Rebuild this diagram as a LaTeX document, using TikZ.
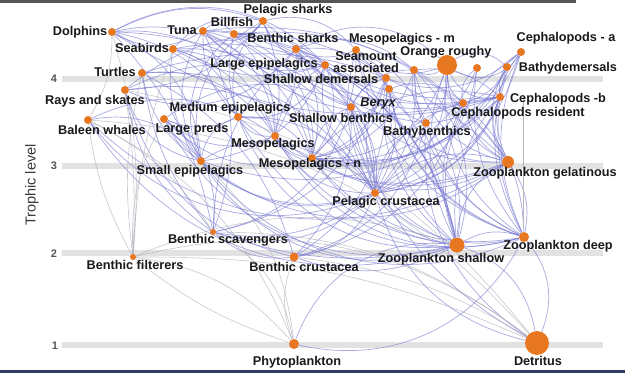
\documentclass[tikz,border=0pt]{standalone}
\usepackage{fontspec}
\setmainfont{Liberation Sans}
\pgfdeclarelayer{bars}
\pgfdeclarelayer{edges}
\pgfsetlayers{bars,edges,main}
\definecolor{dotc}{RGB}{232,119,34}
\definecolor{edgec}{RGB}{118,118,210}
\definecolor{greyedge}{RGB}{170,170,182}
\definecolor{barc}{RGB}{226,226,226}
\definecolor{txt}{RGB}{25,25,25}
\definecolor{framec}{RGB}{85,85,85}
\definecolor{bottomc}{RGB}{45,60,95}
\begin{document}
\begin{tikzpicture}[x=1pt,y=-1pt,
  dot/.style={circle,fill=dotc,draw=none,inner sep=0pt},
  lbl/.style={font=\bfseries\fontsize{12.7}{13}\selectfont,text=txt,inner sep=0pt,text height=9pt,text depth=0pt},
  lvl/.style={font=\bfseries\fontsize{11}{12}\selectfont,text=framec,inner sep=0pt},
  bar/.style={draw=barc,line width=6.5pt},
  edge/.style={draw=edgec,opacity=0.62,line width=0.7pt},
  gedge/.style={draw=greyedge,opacity=0.65,line width=0.6pt}]
\useasboundingbox (0,0) rectangle (625,373);
% trophic level bars
\begin{pgfonlayer}{bars}
\fill[white] (0,0) rectangle (625,373);
\coordinate (b4l) at (62,79);  \coordinate (b4r) at (603,79);
\coordinate (b3l) at (62,166); \coordinate (b3r) at (603,166);
\coordinate (b2l) at (62,253); \coordinate (b2r) at (603,253);
\coordinate (b1l) at (62,345); \coordinate (b1r) at (603,345);
\draw[bar] (b4l) -- (b4r);
\draw[bar] (b3l) -- (b3r);
\draw[bar] (b2l) -- (b2r);
\draw[bar] (b1l) -- (b1r);
\end{pgfonlayer}
% frame bits
\fill[framec] (0,0) rectangle (576,3);
\fill[bottomc] (0,370) rectangle (625,373);
\draw[gray!55,line width=0.6pt] (523,95) -- (523,225);
\node[lvl] (l4) at (54,79) {4};
\node[lvl] (l3) at (54,166) {3};
\node[lvl] (l2) at (54,254) {2};
\node[lvl] (l1) at (55,346) {1};
\node[rotate=90,font=\fontsize{14.5}{15}\selectfont,text=txt!85,inner sep=0pt] (tl) at (32,185) {Trophic level};
% dots
\foreach \n/\x/\y/\r in {
 dol/112/32/4, tun/203/31/4, bil/234/34/4, psh/263/21/4, sea/173/49/4,
 tur/142/73/4, ray/125/90/4, bsh/296/49/4, mem/356/50/4, lep/325/65/4,
 sam/414/70/4, oro/447/65/10, unk/477/68/4, bde/507/67/4, cpa/521/52/4,
 sde/386/78/4, ber/389/89/4, sbe/351/107/4, cpb/500/97/4, cpr/463/103/4,
 bbe/426/123/4, mep/238/117/4, lpr/164/119/4, bwh/88/120/4, mes/275/136/4,
 sep/201/161/4, men/312/158/4, zge/508/162/6, pcr/375/193/4, bsc/213/232/3,
 zde/524/237/5, zsh/457/245/7.5, bfi/133/257/3, bcr/294/257/4.5,
 phy/294/344/5, det/537/343/12}
 \node[dot,minimum size=\r*2pt] (\n) at (\x,\y) {};
% edges
\begin{pgfonlayer}{edges}
\foreach \a/\b/\c in {
 dol/sep/20, dol/mep/15, dol/mes/25, dol/pcr/20, dol/cpb/-15, dol/bsc/10,
 dol/tun/-20, dol/lep/25, dol/men/30,
 tun/sep/-20, tun/mep/-15, tun/mes/20, tun/men/25, tun/pcr/30, tun/zsh/25, tun/cpb/-20, tun/zge/20,
 tun/lep/-20, tun/bsc/15,
 bil/tun/-30, bil/mep/-10, bil/sep/-25, bil/lep/15, bil/mes/15, bil/cpb/-15, bil/zge/20,
 bil/pcr/25, bil/men/25,
 psh/tun/30, psh/bil/20, psh/lep/-20, psh/mep/-20, psh/sep/-25, psh/cpb/-15, psh/bsh/-20, psh/mes/10,
 psh/dol/-15, psh/sea/-20, psh/mem/20, psh/ray/15,
 sea/sep/-15, sea/mep/20, sea/pcr/25, sea/zsh/30, sea/mes/15, sea/lep/-15, sea/men/20,
 tur/zge/20, tur/bcr/15, tur/bsc/-10, tur/pcr/20, tur/sep/-15, tur/mes/20,
 ray/bcr/-20, ray/bsc/-15, ray/sbe/20, ray/pcr/20, ray/sep/-20, ray/sde/25,
 bsh/sde/15, bsh/sbe/-20, bsh/ray/25, bsh/bbe/-15, bsh/cpr/-20, bsh/mes/10, bsh/bsc/-15,
 bsh/mem/-15, bsh/sam/20, bsh/oro/25, bsh/pcr/20, bsh/men/15,
 mem/men/15, mem/pcr/-15, mem/zde/-20, mem/zge/-25, mem/zsh/10, mem/oro/-20, mem/bbe/15,
 lep/sep/20, lep/mes/-15, lep/mep/25, lep/pcr/-20, lep/cpb/-15, lep/men/20, lep/zge/-20, lep/zsh/15,
 sam/pcr/15, sam/zde/-20, sam/men/20, sam/zge/-20, sam/bbe/-15, sam/cpb/15, sam/sbe/-20, sam/zsh/20,
 oro/pcr/20, oro/zde/-20, oro/men/25, oro/bbe/15, oro/cpr/-15, oro/zge/-20, oro/sam/20, oro/cpb/-25, oro/zsh/-15,
 unk/zde/-15, unk/pcr/20, unk/men/25, unk/cpr/-20,
 bde/bbe/20, bde/cpr/15, bde/pcr/25, bde/zde/-15, bde/men/25, bde/oro/-25, bde/zge/-20,
 cpa/men/25, cpa/pcr/20, cpa/zde/-15, cpa/cpb/-20, cpa/oro/30, cpa/zge/-20, cpa/zsh/-25, cpa/sde/20,
 sde/sbe/-15, sde/bcr/20, sde/bsc/20, sde/pcr/-15, sde/zsh/-20, sde/men/20, sde/zde/-20,
 ber/pcr/15, ber/men/20, ber/zde/-20, ber/zsh/-15, ber/bbe/-15, ber/cpr/20,
 sbe/bcr/15, sbe/bsc/20, sbe/zsh/-20, sbe/det/-15, sbe/men/-20, sbe/pcr/15,
 cpb/sep/20, cpb/men/-20, cpb/pcr/20, cpb/zsh/-15, cpb/zde/-10, cpb/mes/25, cpb/zge/-20,
 cpr/pcr/-20, cpr/zde/15, cpr/zge/-15, cpr/bcr/20, cpr/men/25, cpr/zsh/-15,
 bbe/bsc/25, bbe/bcr/20, bbe/det/-20, bbe/zde/-15, bbe/pcr/-20, bbe/zsh/15,
 mep/sep/-20, mep/pcr/20, mep/zsh/-25, mep/zge/-20, mep/mes/-20, mep/men/20, mep/zde/-25,
 lpr/sep/20, lpr/mep/-15, lpr/mes/-20, lpr/pcr/-25, lpr/bsc/20, lpr/men/-20, lpr/zsh/-25, lpr/sbe/20,
 bwh/zsh/-25, bwh/pcr/-25, bwh/sep/20, bwh/mes/20, bwh/zge/-25,
 mes/pcr/-20, mes/zde/-25, mes/zsh/-15, mes/zge/-20, mes/men/-15,
 sep/zsh/-25, sep/pcr/-20, sep/zge/-25, sep/men/20, sep/zde/-25,
 men/zde/-20, men/pcr/15, men/zsh/-15, men/zge/-20,
 zge/zsh/-20, zge/zde/15, zge/pcr/-20,
 pcr/zsh/-15, pcr/zde/-20, pcr/det/-20, pcr/bcr/20,
 bsc/bcr/-15, bsc/zsh/-10, bsc/pcr/-20,
 zde/det/20, zde/zsh/-15, zde/phy/25,
 zsh/phy/-25, zsh/det/20,
 bcr/zsh/-15}
 {\pgfmathsetmacro\cc{\c*1.5}\draw[edge] (\a) to[bend left=\cc] (\b);}
\foreach \a/\b/\c in {
 dol/bfi/10, tur/bfi/-10, ray/bfi/5, bwh/bfi/-10, bfi/phy/20, bfi/det/25, bfi/det/12,
 bwh/bsc/15, ray/det/20, lpr/bfi/-15, bfi/phy/-10, dol/bwh/15, bwh/phy/20, sea/bfi/-8,
 bsc/phy/25, sep/phy/20, bcr/phy/-20, bfi/zsh/20, bsc/det/18, bcr/det/12, bwh/det/22}
 \draw[gedge] (\a) to[bend left=\c] (\b);
\end{pgfonlayer}
% labels
\foreach \n/\x/\y/\t in {
 dol/80/31/Dolphins, tun/182/30/Tuna, bil/232/22/Billfish, psh/288/9/Pelagic sharks,
 sea/142/48/Seabirds, tur/115/72/Turtles, ray/95/100/Rays and skates,
 bsh/293/38/Benthic sharks, mem/402/38/Mesopelagics - m, lep/264/63/Large epipelagics,
 oro/446/51/Orange roughy, bde/568/67/Bathydemersals, cpa/566/37/Cephalopods - a,
 sde/321/79/Shallow demersals, sbe/341/118/Shallow benthics, cpb/558/98/Cephalopods -b,
 cpr/518/112/Cephalopods  resident, bbe/427/131/Bathybenthics, mep/230/107/Medium epipelagics,
 lpr/192/128/Large preds, bwh/102/130/Baleen whales, mes/273/143/Mesopelagics,
 sep/190/170/Small epipelagics, men/310/163/Mesopelagics - n, zge/545/172/Zooplankton gelatinous,
 pcr/386/201/Pelagic crustacea, bsc/228/239/Benthic  scavengers, zde/558/245/Zooplankton deep,
 zsh/441/258/Zooplankton shallow, bfi/135/265/Benthic  filterers, bcr/304/267/Benthic crustacea,
 phy/297/361/Phytoplankton, det/538/361/Detritus}
 \node[lbl] (\n-l) at (\x,\y) {\t};
\node[lbl] (sam-l1) at (366,56) {Seamount};
\node[lbl] (sam-l2) at (366,68) {associated};
\node[lbl,font=\bfseries\itshape\fontsize{12.7}{13}\selectfont] (ber-l) at (378,102) {Beryx};
\end{tikzpicture}
\end{document}
